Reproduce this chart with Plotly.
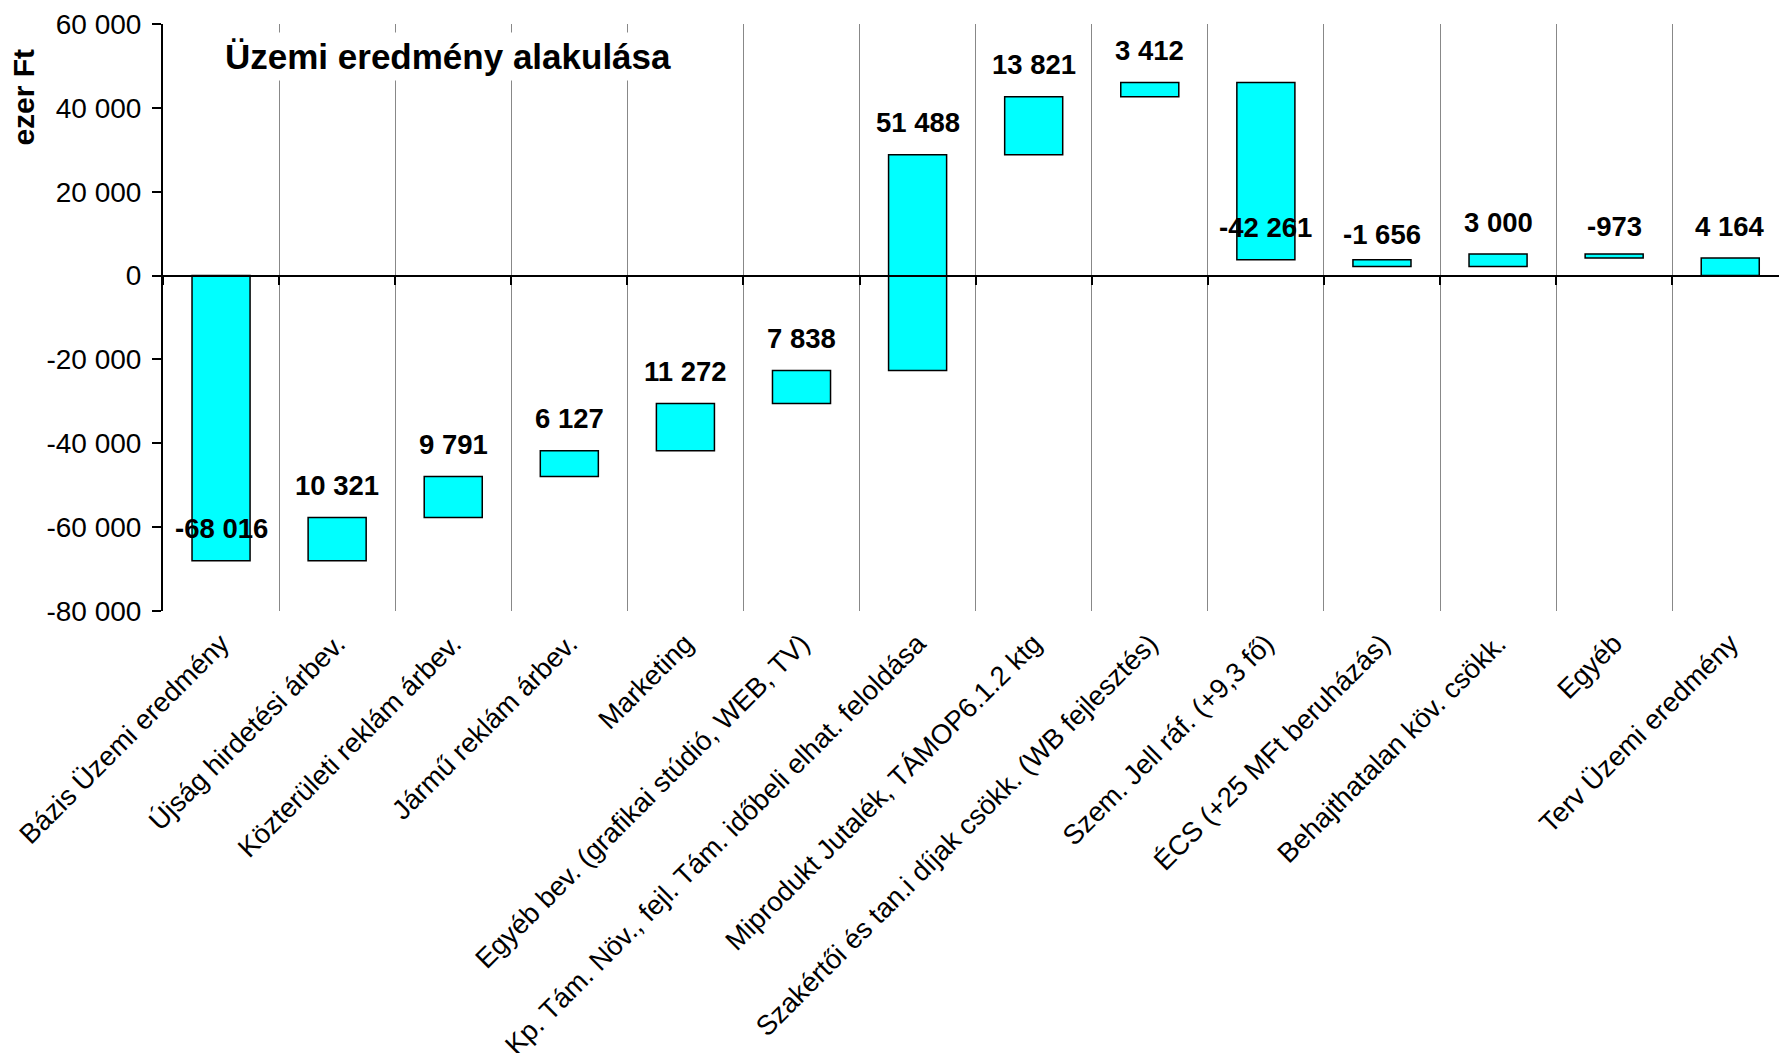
import plotly.graph_objects as go

categories = [
    "Bázis Üzemi eredmény",
    "Újság hirdetési árbev.",
    "Közterületi reklám árbev.",
    "Jármű reklám árbev.",
    "Marketing",
    "Egyéb bev. (grafikai stúdió, WEB, TV)",
    "Kp. Tám. Növ., fejl. Tám. időbeli elhat. feloldása",
    "Miprodukt Jutalék, TÁMOP6.1.2 ktg",
    "Szakértői és tan.i díjak csökk. (WB fejlesztés)",
    "Szem. Jell ráf. (+9,3 fő)",
    "ÉCS (+25 MFt beruházás)",
    "Behajthatalan köv. csökk.",
    "Egyéb",
    "Terv Üzemi eredmény",
]
values = [-68016, 10321, 9791, 6127, 11272, 7838, 51488, 13821, 3412,
          -42261, -1656, 3000, -973, 4164]
measures = ["absolute"] + ["relative"] * 12 + ["total"]

y_tickvals = [60000, 40000, 20000, 0, -20000, -40000, -60000, -80000]
y_ticktext = ["60 000", "40 000", "20 000", "0", "-20 000", "-40 000", "-60 000", "-80 000"]

title_text = "Üzemi eredmény alakulása"
y_title = "ezer Ft"

FONT = "Liberation Sans, Arial, sans-serif"


def fmt(v):
    return f"{v:,}".replace(",", " ")


# floating bar geometry from the data
bases, heights, ends = [], [], []
running = 0
for v, m in zip(values, measures):
    if m == "absolute":
        bases.append(0)
        heights.append(v)
        running = v
    elif m == "relative":
        bases.append(running)
        heights.append(v)
        running += v
    else:
        bases.append(0)
        heights.append(running)
    ends.append(running)

fig = go.Figure()
fig.add_trace(go.Bar(
    x=categories, y=heights, base=bases, width=0.5,
    marker=dict(color="#00FFFF", line=dict(color="#000000", width=1.5)),
    hoverinfo="skip", showlegend=False,
))
# invisible trace to carry the zero-line axis ticks
fig.add_trace(go.Scatter(
    x=categories, y=ends, mode="markers", marker=dict(opacity=0),
    xaxis="x2", yaxis="y", hoverinfo="skip", showlegend=False,
))

annotations = []
for c, e, v in zip(categories, ends, values):
    annotations.append(dict(
        x=c, y=e, xref="x", yref="y", text=f"<b>{fmt(v)}</b>",
        showarrow=False, yshift=32,
        font=dict(family=FONT, size=27.5, color="black"),
    ))

annotations.append(dict(
    x=0.035, y=0.945, xref="paper", yref="paper", xanchor="left", yanchor="middle",
    text=f"<b>{title_text}</b>", showarrow=False, bgcolor="white", borderpad=4,
    font=dict(family=FONT, size=35, color="black"),
))
annotations.append(dict(
    x=-0.0865, y=0.875, xref="paper", yref="paper", xanchor="center", yanchor="middle",
    text=f"<b>{y_title}</b>", showarrow=False, textangle=-90,
    font=dict(family=FONT, size=30, color="black"),
))

zero_pos = (0 - (-80000)) / (60000 - (-80000))

fig.update_layout(
    width=1779, height=1053,
    margin=dict(l=163, r=0, t=24, b=442),
    paper_bgcolor="white", plot_bgcolor="white",
    font=dict(family=FONT, size=26, color="black"),
    bargap=0.5,
    annotations=annotations,
    xaxis=dict(
        type="category", categoryorder="array", categoryarray=categories,
        range=[-0.5, 13.42], tickson="boundaries", ticks="",
        showgrid=True, gridcolor="#888888", gridwidth=1,
        showline=False, zeroline=False, tickangle=-45,
        tickfont=dict(family=FONT, size=27.5, color="black"),
        ticklabelstandoff=10, automargin=False,
    ),
    xaxis2=dict(
        type="category", categoryorder="array", categoryarray=categories,
        range=[-0.5, 13.42], overlaying="x", anchor="free", position=zero_pos,
        side="bottom", tickson="boundaries", ticks="outside", ticklen=8,
        tickwidth=2, tickcolor="black", showticklabels=False,
        showgrid=False, showline=True, linecolor="black", linewidth=2,
        zeroline=False, automargin=False,
    ),
    yaxis=dict(
        range=[-80000, 60000], tickvals=y_tickvals, ticktext=y_ticktext,
        showgrid=False, zeroline=False, showline=True, linecolor="black",
        linewidth=2, ticks="outside", ticklen=9, tickwidth=2, tickcolor="black",
        tickfont=dict(family=FONT, size=28, color="black"),
        ticklabelstandoff=5, automargin=False,
    ),
)

fig.write_html(
    "out.html",
    config={"displayModeBar": False},
    post_script="document.body.style.margin='0';document.body.style.overflow='hidden';",
)
